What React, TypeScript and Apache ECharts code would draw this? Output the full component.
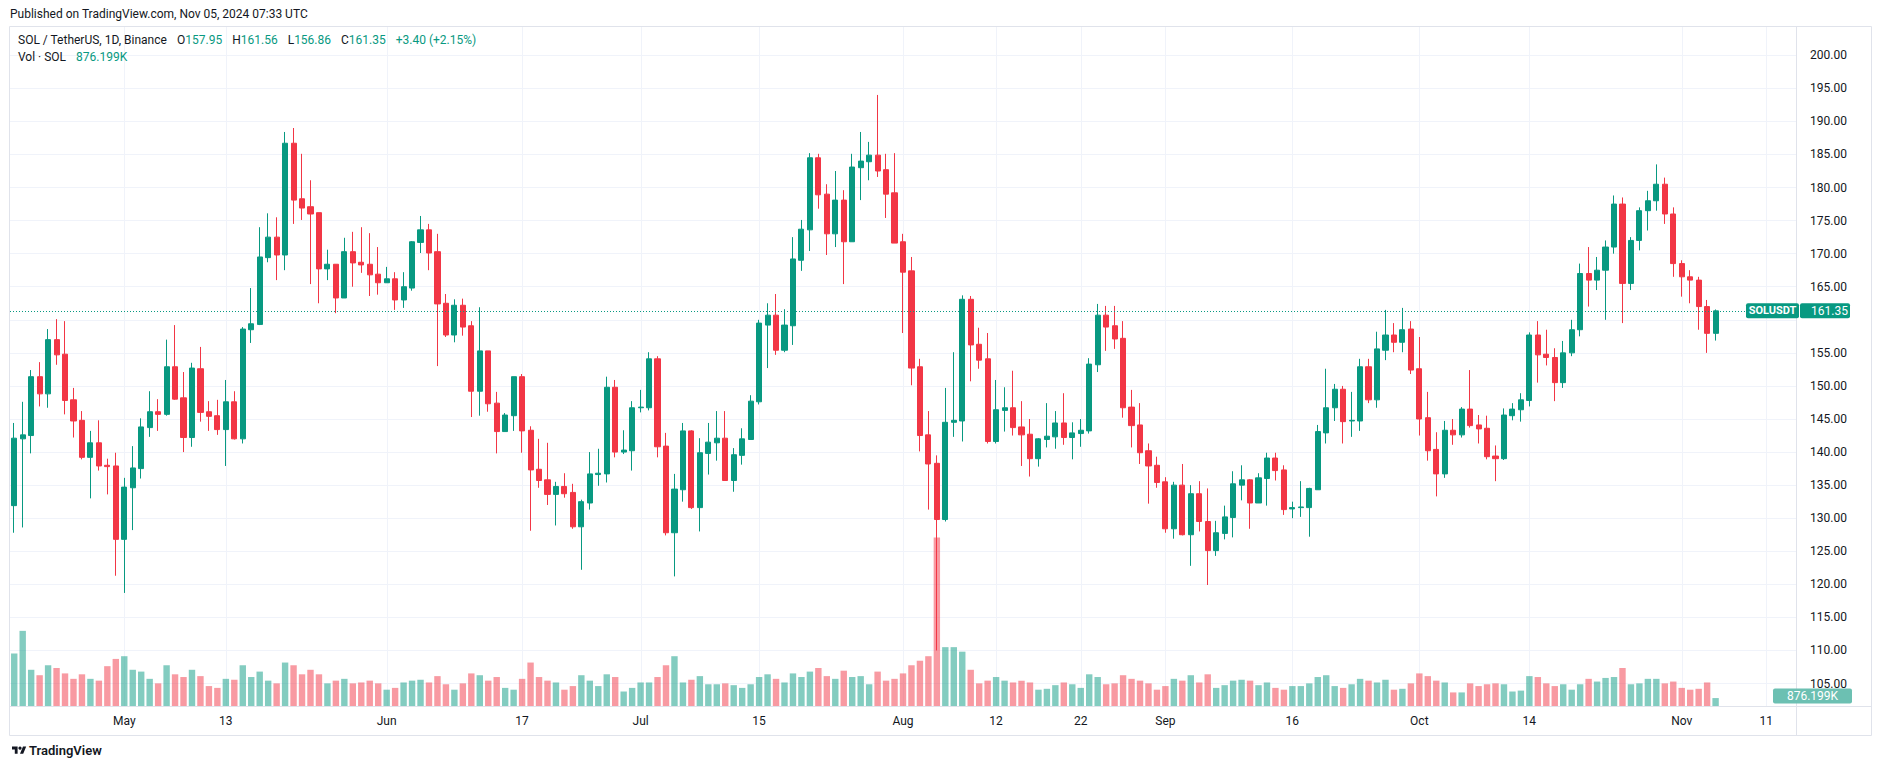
import React, { useEffect, useRef } from "react";
import * as echarts from "echarts";

// ---------- DATA ----------
// daily candles [open, high, low, close], first day 2024-04-18
const aprCandles = [
  [131.9, 144.4, 127.8, 142.1], [142.0, 147.6, 128.6, 142.6], [142.5, 152.4, 139.8, 151.4], [151.4, 153.6, 146.9, 148.8],
  [148.8, 158.6, 146.7, 157.0], [157.0, 160.1, 153.2, 154.7], [154.8, 159.8, 145.7, 147.8], [147.9, 149.7, 142.2, 144.7],
  [144.8, 146.2, 138.9, 139.2], [139.2, 143.2, 133.0, 141.4], [141.4, 144.8, 137.2, 137.9], [138.0, 139.0, 133.6, 137.8],
  [137.9, 139.9, 121.3, 126.8],
];
const mayCandles = [
  [126.8, 136.1, 118.7, 134.7], [134.6, 140.9, 128.2, 137.6], [137.5, 145.1, 136.0, 143.8], [143.7, 149.2, 142.3, 146.1],
  [146.1, 148.0, 143.2, 145.7], [145.7, 157.0, 145.5, 152.9], [152.9, 159.2, 147.9, 148.0], [148.2, 152.1, 140.0, 142.2],
  [142.2, 153.5, 140.8, 152.7], [152.6, 155.9, 144.6, 146.0], [146.1, 147.7, 143.2, 145.4], [145.5, 147.9, 142.6, 143.4],
  [143.4, 150.9, 137.9, 147.6], [147.6, 149.2, 141.9, 142.0], [142.0, 158.9, 141.3, 158.6], [158.5, 164.8, 156.5, 159.4],
  [159.3, 174.0, 159.2, 169.5], [169.4, 176.1, 168.7, 172.5], [172.5, 175.5, 166.0, 169.8], [169.8, 188.4, 167.5, 186.7],
  [186.7, 189.0, 174.5, 178.1], [178.3, 185.1, 175.1, 176.9], [177.1, 181.1, 165.4, 176.0], [176.2, 176.2, 162.5, 167.7],
  [167.7, 170.6, 166.0, 168.4], [168.4, 168.4, 161.0, 163.3], [163.3, 172.4, 163.3, 170.3], [170.3, 173.3, 165.0, 168.6],
  [168.7, 174.0, 167.1, 168.3], [168.4, 173.1, 163.6, 166.8], [166.9, 171.0, 163.8, 165.6],
];
const junCandles = [
  [165.6, 168.0, 165.6, 166.2], [166.2, 167.2, 161.5, 163.0], [163.0, 167.2, 161.8, 165.0], [164.8, 171.9, 164.4, 171.8],
  [171.7, 175.7, 170.1, 173.6], [173.6, 174.5, 167.5, 170.1], [170.3, 173.0, 153.0, 162.4], [162.5, 163.9, 157.4, 157.7],
  [157.7, 163.1, 156.6, 162.2], [162.2, 163.2, 157.6, 158.9], [159.1, 159.8, 145.3, 149.2], [149.2, 161.9, 145.5, 155.3],
  [155.3, 155.3, 146.1, 147.3], [147.4, 149.1, 139.8, 143.1], [143.1, 145.9, 143.1, 145.6], [145.5, 151.4, 143.2, 151.4],
  [151.4, 151.8, 139.9, 143.2], [143.3, 143.9, 128.1, 137.3], [137.4, 142.0, 134.6, 135.7], [135.8, 141.4, 132.0, 133.6],
  [133.6, 135.5, 128.9, 134.8], [134.8, 136.8, 133.1, 133.7], [133.9, 135.2, 128.4, 128.7], [128.7, 132.8, 122.2, 132.5],
  [132.3, 140.0, 131.3, 136.7], [136.6, 140.5, 134.9, 136.8], [136.7, 151.4, 135.4, 149.8], [149.8, 150.9, 139.2, 140.0],
  [140.0, 143.3, 139.7, 140.3], [140.2, 147.7, 137.2, 146.7],
];
const julCandles = [
  [146.7, 149.4, 146.0, 146.8], [146.7, 155.1, 146.3, 154.1], [154.1, 154.5, 139.2, 140.8], [140.9, 142.9, 127.4, 127.8],
  [127.8, 136.7, 121.2, 134.4], [134.3, 144.4, 132.5, 143.2], [143.2, 143.3, 131.4, 131.6], [131.6, 142.1, 128.0, 139.9],
  [139.8, 144.4, 136.6, 141.5], [141.4, 146.2, 138.7, 142.1], [142.1, 146.2, 135.7, 135.7], [135.7, 140.6, 134.0, 139.6],
  [139.5, 143.6, 138.1, 142.0], [141.9, 148.6, 141.9, 147.7], [147.6, 160.0, 147.2, 159.5], [159.2, 162.5, 152.7, 160.7],
  [160.7, 163.9, 154.7, 155.4], [155.4, 161.6, 155.1, 159.2], [159.1, 172.5, 156.2, 169.2], [169.0, 175.1, 167.4, 173.7],
  [173.6, 185.2, 170.4, 184.5], [184.5, 185.1, 176.8, 178.9], [179.0, 180.5, 169.8, 173.0], [173.0, 182.5, 171.0, 178.1],
  [178.1, 179.6, 165.4, 171.8], [171.8, 185.1, 171.8, 183.1], [183.0, 188.4, 178.1, 184.0], [183.9, 186.9, 181.1, 184.9],
  [184.9, 194.0, 181.6, 182.5], [182.7, 185.1, 175.4, 179.0], [179.2, 185.2, 171.6, 171.6],
];
const augCandles = [
  [171.8, 173.0, 158.0, 167.2], [167.4, 169.5, 150.1, 152.7], [152.9, 154.1, 140.1, 142.5], [142.6, 146.2, 131.3, 138.2],
  [138.3, 139.5, 110.0, 129.8], [129.8, 149.7, 129.5, 144.5], [144.5, 155.1, 142.3, 144.8], [144.7, 163.7, 141.6, 163.1],
  [163.1, 163.6, 150.7, 156.2], [156.3, 158.8, 152.6, 153.9], [154.1, 158.0, 141.3, 141.6], [141.6, 150.9, 141.3, 146.4],
  [146.3, 149.8, 143.1, 146.7], [146.7, 152.3, 142.5, 143.7], [143.8, 147.7, 137.9, 142.6], [142.7, 145.0, 136.3, 139.0],
  [139.0, 142.1, 137.8, 142.0], [141.9, 147.4, 140.7, 142.4], [142.3, 146.2, 140.5, 144.4], [144.4, 148.9, 141.1, 142.2],
  [142.2, 144.5, 138.9, 142.9], [142.8, 145.0, 140.8, 143.3], [143.2, 154.2, 142.8, 153.3], [153.2, 162.4, 152.1, 160.7],
  [160.7, 162.1, 155.3, 158.9], [159.1, 162.1, 155.6, 157.1], [157.2, 159.8, 145.2, 146.7], [146.8, 149.4, 140.7, 144.0],
  [144.1, 147.4, 138.2, 139.9], [140.2, 141.3, 132.2, 137.9], [138.0, 139.3, 134.6, 135.4],
];
const sepCandles = [
  [135.5, 136.2, 127.8, 128.4], [128.4, 135.5, 126.9, 135.0], [135.0, 138.2, 127.4, 127.5], [127.5, 135.0, 122.8, 133.7],
  [133.7, 135.6, 128.0, 129.5], [129.5, 134.5, 119.9, 125.1], [125.1, 129.6, 124.3, 127.8], [127.7, 131.9, 126.8, 130.2],
  [130.1, 137.1, 127.1, 135.2], [135.0, 138.0, 132.7, 135.8], [135.8, 135.9, 128.4, 132.3], [132.3, 136.8, 132.3, 136.1],
  [136.0, 139.9, 131.9, 139.1], [139.1, 139.9, 135.7, 137.2], [137.3, 138.0, 130.5, 131.3], [131.4, 132.5, 130.0, 131.6],
  [131.6, 135.6, 130.2, 131.7], [131.6, 134.6, 127.2, 134.5], [134.3, 144.1, 134.3, 143.1], [142.9, 152.6, 141.3, 146.7],
  [146.7, 150.3, 144.7, 149.5], [149.5, 150.0, 141.3, 144.6], [144.7, 149.1, 142.3, 144.8], [144.7, 154.1, 143.2, 152.9],
  [152.9, 154.1, 147.4, 147.9], [147.9, 158.2, 146.7, 155.6], [155.4, 161.5, 153.9, 157.7], [157.7, 159.5, 155.1, 156.6],
  [156.6, 161.8, 155.1, 158.5], [158.6, 159.8, 151.8, 152.4],
];
const octCandles = [
  [152.6, 157.4, 142.5, 145.0], [145.2, 149.1, 138.7, 140.2], [140.4, 143.0, 133.3, 136.7], [136.7, 144.7, 136.1, 143.3],
  [143.3, 145.0, 141.1, 142.6], [142.6, 146.8, 142.2, 146.5], [146.5, 152.4, 143.7, 144.0], [144.1, 145.6, 141.3, 143.5],
  [143.6, 145.5, 138.9, 139.3], [139.4, 141.0, 135.6, 139.0], [139.0, 146.6, 138.8, 145.6], [145.5, 147.4, 144.8, 146.5],
  [146.4, 148.9, 144.6, 147.9], [147.8, 158.1, 146.9, 157.7], [157.7, 159.8, 150.5, 154.7], [154.8, 158.5, 153.1, 154.3],
  [154.3, 155.7, 147.7, 150.5], [150.5, 156.8, 149.7, 155.0], [155.0, 160.0, 154.5, 158.5], [158.5, 168.5, 157.5, 167.0],
  [167.0, 171.0, 162.0, 166.0], [166.0, 169.5, 164.5, 167.5], [167.5, 172.0, 160.0, 171.0], [171.0, 178.8, 170.0, 177.5],
  [177.5, 178.5, 159.5, 165.5], [165.5, 172.5, 164.5, 172.0], [172.0, 177.0, 170.5, 176.5], [176.5, 179.5, 173.5, 178.0],
  [178.0, 183.5, 176.5, 180.5], [180.5, 181.5, 174.5, 176.0], [176.0, 177.0, 166.5, 168.5],
];
const novCandles = [
  [168.5, 169.0, 163.5, 166.5], [166.5, 167.5, 162.5, 166.0], [166.0, 166.5, 158.5, 162.0], [162.0, 163.0, 155.0, 157.95],
  [157.95, 161.56, 156.86, 161.35],
];

// daily volume, millions of SOL
const aprVolume = [5.8, 8.3, 4.0, 3.4, 4.5, 4.2, 3.6, 3.0, 3.5, 3.0, 2.8, 4.4, 5.2];
const mayVolume = [5.5, 4.0, 3.8, 3.0, 2.5, 4.5, 3.5, 3.2, 4.0, 3.3, 2.2, 2.0, 3.0, 2.9, 4.5, 3.2, 3.8, 2.8, 2.5, 4.8, 4.5, 3.5, 4.0, 3.5, 2.5, 2.8, 3.0, 2.5, 2.6, 2.8, 2.5];
const junVolume = [1.8, 2.0, 2.6, 2.8, 2.9, 2.6, 3.3, 2.4, 1.8, 2.5, 3.6, 3.4, 2.8, 3.2, 2.0, 1.8, 3.0, 4.8, 3.2, 2.8, 2.6, 1.8, 2.2, 3.4, 2.8, 2.2, 3.5, 3.2, 1.6, 2.0];
const julVolume = [2.6, 2.6, 3.2, 4.5, 5.5, 2.6, 2.9, 3.3, 2.4, 2.4, 2.5, 2.3, 2.0, 2.4, 3.2, 3.5, 3.0, 2.6, 3.6, 3.2, 3.8, 4.2, 3.3, 3.0, 3.9, 3.2, 3.3, 2.4, 3.8, 2.8, 3.0];
const augVolume = [3.6, 4.5, 5.0, 5.5, 18.6, 6.5, 6.5, 6.0, 4.0, 2.5, 2.8, 3.2, 2.8, 2.6, 2.8, 2.6, 1.8, 1.9, 2.3, 2.6, 2.4, 2.0, 3.5, 3.2, 2.4, 2.5, 3.4, 3.0, 2.8, 2.5, 1.8];
const sepVolume = [2.2, 3.0, 2.8, 3.4, 2.6, 3.5, 2.0, 2.3, 2.8, 2.9, 2.8, 2.3, 2.6, 2.0, 1.8, 2.2, 2.2, 2.5, 3.2, 3.4, 2.2, 2.0, 2.4, 3.0, 2.8, 2.6, 2.9, 1.8, 1.9, 2.5];
const octVolume = [3.6, 3.3, 2.8, 2.6, 1.5, 1.5, 2.5, 2.2, 2.4, 2.5, 2.4, 1.6, 1.7, 3.3, 3.2, 2.5, 2.2, 2.4, 1.8, 2.4, 3.0, 2.7, 3.1, 3.2, 4.2, 2.4, 2.5, 3.0, 3.0, 2.5, 2.7];
const novVolume = [2.0, 1.8, 1.9, 2.6, 0.876199];

// time axis ticks
const tickDates = ["2024-05-01", "2024-05-13", "2024-06-01", "2024-06-17", "2024-07-01", "2024-07-15", "2024-08-01",
  "2024-08-12", "2024-08-22", "2024-09-01", "2024-09-16", "2024-10-01", "2024-10-14", "2024-11-01", "2024-11-11"];
const tickLabels = ["May", "13", "Jun", "17", "Jul", "15", "Aug", "12", "22", "Sep", "16", "Oct", "14", "Nov", "11"];

const FIRST_DAY = [2024, 3, 18];
const EMPTY_DAYS_AFTER = 9;
const LAST_PRICE = 161.35;

// ---------- STYLE ----------
const FONT = "Roboto, 'Noto Sans', sans-serif";
const UP = "#089981";
const DOWN = "#F23645";
const UP_VOL = "rgba(8,153,129,0.5)";
const DOWN_VOL = "rgba(242,54,69,0.5)";
const GRID = "#f0f3fa";
const TEXT = "#131722";
const LOGO_D = "M14 22H7V11H0V4h14v18zM28 22h-8l7.5-18h8L28 22z";

export default function App() {
  const ref = useRef<HTMLDivElement>(null);

  useEffect(() => {
    if (!ref.current) return;
    const chart = echarts.init(ref.current, undefined, { renderer: "svg" });

    const candles = [...aprCandles, ...mayCandles, ...junCandles, ...julCandles, ...augCandles, ...sepCandles, ...octCandles, ...novCandles];
    const volumes = [...aprVolume, ...mayVolume, ...junVolume, ...julVolume, ...augVolume, ...sepVolume, ...octVolume, ...novVolume];

    const dates: string[] = [];
    const t0 = Date.UTC(FIRST_DAY[0], FIRST_DAY[1], FIRST_DAY[2]);
    for (let i = 0; i < candles.length + EMPTY_DAYS_AFTER; i++) {
      dates.push(new Date(t0 + i * 86400000).toISOString().slice(0, 10));
    }

    const candleData = candles.map((c) => [c[0], c[3], c[2], c[1]]);
    const volData = volumes.map((v, i) => ({
      value: v,
      itemStyle: { color: candles[i][3] >= candles[i][0] ? UP_VOL : DOWN_VOL },
    }));

    const option: any = {
      animation: false,
      backgroundColor: "#ffffff",
      textStyle: { fontFamily: FONT },
      grid: [
        { left: 10, top: 22.2, width: 1786, height: 694.4, show: false },
        { left: 10, top: 27, width: 1786, height: 679, show: false },
      ],
      xAxis: [
        { type: "category", gridIndex: 0, data: dates, boundaryGap: true, show: false },
        {
          type: "category", gridIndex: 1, data: dates, boundaryGap: true,
          axisLine: { show: false }, axisTick: { show: false }, splitLine: { show: false },
          axisLabel: {
            interval: (_i: number, v: string) => tickDates.indexOf(v) >= 0,
            formatter: (v: string) => { const k = tickDates.indexOf(v); return k >= 0 ? tickLabels[k] : ""; },
            color: TEXT, fontSize: 12, fontFamily: FONT, margin: 9,
          },
        },
      ],
      yAxis: [
        {
          type: "value", gridIndex: 0, position: "right", min: 100, max: 205, interval: 5,
          axisLine: { show: false }, axisTick: { show: false },
          splitLine: { show: true, showMinLine: false, showMaxLine: false, lineStyle: { color: GRID, width: 1 } },
          axisLabel: {
            // the 160.00 label sits under the last-price tag, as in TradingView
            formatter: (v: number) => (v <= 100 || v >= 205 || v === 160 ? "" : v.toFixed(2)),
            color: TEXT, fontSize: 12, fontFamily: FONT, margin: 14, align: "left",
          },
        },
        { type: "value", gridIndex: 1, min: 0, max: 75, show: false },
      ],
      series: [
        {
          type: "custom", xAxisIndex: 1, yAxisIndex: 1, silent: true, z: 0,
          data: tickDates.map((d) => [d, 0]),
          encode: { x: 0, y: 1 },
          renderItem: (params: any, api: any) => {
            const x = Math.round(api.coord([api.value(0), 0])[0]) + 0.5;
            const cs = params.coordSys;
            return {
              type: "line",
              shape: { x1: x, y1: cs.y, x2: x, y2: cs.y + cs.height },
              style: { stroke: GRID, lineWidth: 1 },
            };
          },
        },
        {
          type: "bar", xAxisIndex: 1, yAxisIndex: 1, data: volData, barWidth: 6.4, z: 1, silent: true,
        },
        {
          type: "candlestick", xAxisIndex: 0, yAxisIndex: 0, data: candleData, barWidth: 5.6, z: 3, silent: true,
          itemStyle: { color: UP, color0: DOWN, borderColor: UP, borderColor0: DOWN, borderWidth: 1 },
          markLine: {
            silent: true, symbol: "none", label: { show: false },
            lineStyle: { color: UP, width: 1, type: [1, 2] },
            data: [{ yAxis: LAST_PRICE }],
          },
        },
      ],
    };
    chart.setOption(option);

    const yPrice = chart.convertToPixel({ yAxisIndex: 0 }, LAST_PRICE) as number;
    const yVol = Math.min(chart.convertToPixel({ yAxisIndex: 1 }, volumes[volumes.length - 1]) as number, 696);

    echarts.graphic.registerShape("tvlogo", echarts.graphic.extendPath(LOGO_D, {}) as any);

    const F12 = `12px ${FONT}`;
    chart.setOption({
      graphic: [
        { type: "rect", shape: { x: 9.5, y: 26.5, width: 1862, height: 709 }, style: { fill: "none", stroke: "#e0e3eb", lineWidth: 1 }, silent: true, z: 50 },
        { type: "line", shape: { x1: 1796.5, y1: 27, x2: 1796.5, y2: 735 }, style: { stroke: "#e0e3eb", lineWidth: 1 }, silent: true, z: 50 },
        { type: "line", shape: { x1: 10, y1: 706.5, x2: 1871, y2: 706.5 }, style: { stroke: "#e0e3eb", lineWidth: 1 }, silent: true, z: 50 },
        {
          type: "text", left: 10, top: 8, z: 60,
          style: { text: "Published on TradingView.com, Nov 05, 2024 07:33 UTC", fill: TEXT, font: F12 },
        },
        {
          type: "text", left: 18, top: 34, z: 60,
          style: {
            text: "{t|SOL / TetherUS, 1D, Binance}   {k|O}{v|157.95}   {k|H}{v|161.56}   {k|L}{v|156.86}   {k|C}{v|161.35}   {v|+3.40 (+2.15%)}",
            rich: {
              t: { fill: TEXT, font: F12 },
              k: { fill: TEXT, font: F12 },
              v: { fill: UP, font: F12 },
            },
          },
        },
        {
          type: "text", left: 18, top: 51, z: 60,
          style: {
            text: "{t|Vol · SOL}   {v|876.199K}",
            rich: { t: { fill: TEXT, font: F12 }, v: { fill: UP, font: F12 } },
          },
        },
        { type: "rect", shape: { x: 1746, y: yPrice - 7.5, width: 53, height: 15, r: 2 }, style: { fill: UP }, z: 60 },
        { type: "text", x: 1772.5, y: yPrice, z: 61, style: { text: "SOLUSDT", fill: "#fff", font: `bold 11px ${FONT}`, align: "center", verticalAlign: "middle" } },
        { type: "rect", shape: { x: 1800, y: yPrice - 7.5, width: 50, height: 15, r: 2 }, style: { fill: UP }, z: 60 },
        { type: "text", x: 1811, y: yPrice, z: 61, style: { text: "161.35", fill: "#fff", font: F12, align: "left", verticalAlign: "middle" } },
        { type: "rect", shape: { x: 1773, y: yVol - 7.5, width: 79, height: 15, r: 2 }, style: { fill: "#6cc0b2" }, z: 60 },
        { type: "text", x: 1812.5, y: yVol, z: 61, style: { text: "876.199K", fill: "#fff", font: F12, align: "center", verticalAlign: "middle" } },
        { type: "tvlogo", x: 12, y: 745, scaleX: 0.4, scaleY: 0.4, style: { fill: TEXT }, z: 60 },
        { type: "circle", shape: { cx: 12 + 20 * 0.4, cy: 745 + 8 * 0.4, r: 4 * 0.4 }, style: { fill: TEXT }, z: 60 },
        { type: "text", left: 29, top: 744, z: 60, style: { text: "TradingView", fill: TEXT, font: `600 13px ${FONT}` } },
      ],
    });

    return () => chart.dispose();
  }, []);

  return <div ref={ref} style={{ width: 1882, height: 768, margin: -8 }} />;
}
